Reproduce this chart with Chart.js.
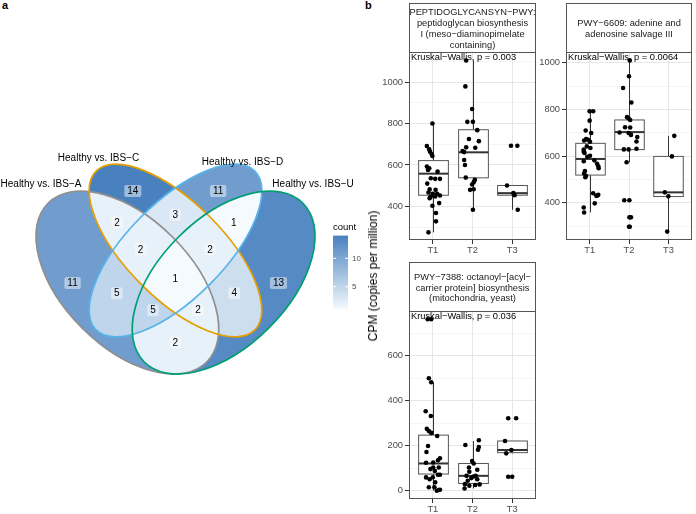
<!DOCTYPE html>
<html>
<head>
<meta charset="utf-8">
<script src="https://cdn.jsdelivr.net/npm/chart.js@4.4.1/dist/chart.umd.min.js"></script>
<style>
body { margin: 0; background: #fff; width: 696px; height: 514px; position: relative; overflow: hidden; font-family: "Liberation Sans", Arial, sans-serif; }
canvas { position: absolute; }
.tag { position: absolute; font-weight: bold; font-size: 11px; }
#ylab { position: absolute; left: 373px; top: 276px; transform: translate(-50%, -50%) rotate(-90deg); white-space: nowrap; font-size: 12px; color: #000; }
</style>
</head>
<body>
<div class="tag" style="left:2px;top:-1px">a</div>
<div class="tag" style="left:365px;top:-1px">b</div>
<canvas id="venn" width="370" height="514" style="left:0;top:0"></canvas>
<canvas id="p1" width="170" height="262" style="left:370px;top:0"></canvas>
<canvas id="p2" width="156" height="262" style="left:540px;top:0"></canvas>
<canvas id="p3" width="170" height="256" style="left:370px;top:258px"></canvas>
<div id="ylab">CPM (copies per million)</div>
<script>
// ---- panel a: venn counts ----
var setNames = ['Healthy vs. IBS\u2212A', 'Healthy vs. IBS\u2212C', 'Healthy vs. IBS\u2212D', 'Healthy vs. IBS\u2212U'];
// 0 = IBS-A, 1 = IBS-C, 2 = IBS-D, 3 = IBS-U
var regionSets = [[0], [1], [2], [3], [0, 1], [1, 2], [2, 3], [0, 1, 2], [1, 2, 3], [0, 1, 2, 3], [0, 2], [1, 3], [0, 2, 3], [0, 1, 3], [0, 3]];
var regionCounts = [11, 14, 11, 13, 2, 3, 1, 2, 2, 1, 5, 4, 5, 2, 2];
var countTicks = [5, 10];

// venn layout (unit coordinates, like ggVennDiagram)
var ellX = [0.35, 0.50, 0.50, 0.65];
var ellY = [0.47, 0.57, 0.57, 0.47];
var ellA = [0.35, 0.35, 0.35, 0.35];
var ellB = [0.20, 0.15, 0.15, 0.20];
var ellRot = [Math.PI / 4, Math.PI / 4, -Math.PI / 4, -Math.PI / 4];
var ellColors = ['#8f8f8f', '#E69F00', '#56B4E9', '#009E73'];
var regionX = [0.179, 0.367, 0.633, 0.821, 0.318, 0.499, 0.682, 0.391, 0.608, 0.499, 0.317, 0.683, 0.43, 0.57, 0.499];
var regionY = [0.469, 0.756, 0.756, 0.469, 0.657, 0.681, 0.657, 0.574, 0.574, 0.482, 0.437, 0.437, 0.384, 0.384, 0.284];
var setLabelX = [0.0806, 0.260, 0.709, 0.929];
var setLabelY = [0.7775, 0.8585, 0.846, 0.7775];

// ---- panel b: boxplots ----
var groups = ['T1', 'T2', 'T3'];

var pepTitle = ['PEPTIDOGLYCANSYN\u2212PWY:', 'peptidoglycan biosynthesis', 'I (meso\u2212diaminopimelate', 'containing)'];
var pepP = 'Kruskal\u2212Wallis, p = 0.003';
var pepT1 = [800, 691, 675, 664, 653, 643, 592, 584, 576, 568, 536, 533, 533, 510, 482, 480, 467, 461, 461, 453, 448, 448, 440, 416, 403, 368, 328, 275];
var pepT1Jit = [-0.01, -0.15, -0.09, -0.07, -0.03, -0.01, -0.15, -0.09, -0.12, 0.12, -0.05, 0.06, 0.18, -0.14, -0.08, 0.07, -0.11, 0, 0.11, 0.18, 0.06, -0.05, -0.08, 0.16, -0.01, 0.08, 0.08, -0.11];
var pepT2 = [1104, 979, 870, 808, 808, 768, 725, 715, 685, 683, 667, 662, 624, 600, 539, 528, 517, 506, 483, 480, 384];
var pepT2Jit = [-0.16, -0.18, -0.01, -0.13, 0.01, 0.12, -0.09, 0.16, -0.16, 0.07, -0.25, -0.21, -0.21, -0.19, -0.17, 0.06, 0.03, -0.01, 0.03, -0.06, 0.01];
var pepT3 = [693, 693, 501, 464, 454, 384];
var pepT3Jit = [-0.03, 0.13, -0.13, 0.03, 0.06, 0.14];
var pepLower = [275, 384, 384];
var pepQ1 = [454, 538, 454];
var pepMedian = [558, 661, 464];
var pepQ3 = [621, 770, 501];
var pepUpper = [800, 1104, 501];

var adeTitle = ['PWY\u22126609: adenine and', 'adenosine salvage III'];
var adeP = 'Kruskal\u2212Wallis, p = 0.0064';
var adeT1 = [792, 792, 752, 710, 699, 673, 670, 667, 662, 642, 635, 628, 619, 614, 602, 597, 582, 578, 567, 557, 548, 536, 526, 515, 510, 441, 435, 432, 430, 398, 380, 359];
var adeT1Jit = [0, 0.09, 0, -0.1, 0.04, -0.09, -0.04, -0.14, 0.01, -0.07, 0.02, -0.15, -0.15, -0.13, 0.01, -0.06, 0.12, -0.15, 0.19, 0.22, 0.23, -0.12, -0.14, -0.09, -0.11, 0.09, 0.22, 0.2, 0.17, 0.13, -0.15, -0.14];
var adeT2 = [1010, 942, 892, 830, 767, 762, 755, 724, 723, 701, 699, 691, 682, 663, 632, 629, 629, 574, 411, 411, 338, 338, 298, 298];
var adeT2Jit = [0.02, 0, -0.15, 0.06, -0.05, -0.01, 0.03, -0.1, 0.03, -0.24, -0.01, 0.05, 0.21, 0.19, 0.19, -0.13, -0.01, -0.06, -0.12, 0.01, 0.01, 0.05, 0, 0.02];
var adeT3 = [687, 599, 445, 428, 277];
var adeT3Jit = [0.15, 0.09, -0.09, 0, -0.03];
var adeLower = [359, 574, 277];
var adeQ1 = [519, 628, 427];
var adeMedian = [588, 703, 445];
var adeQ3 = [655, 755, 599];
var adeUpper = [792, 1010, 687];

var octTitle = ['PWY\u22127388: octanoyl\u2212[acyl\u2212', 'carrier protein] biosynthesis', '(mitochondria, yeast)'];
var octP = 'Kruskal\u2212Wallis, p = 0.036';
var octT1 = [762, 762, 500, 482, 353, 332, 275, 265, 257, 243, 199, 172, 144, 135, 125, 124, 103, 103, 96, 88, 71, 71, 60, 59, 51, 37, 15, 15, 4, 3, 0];
var octT1Jit = [-0.13, -0.04, -0.1, -0.04, -0.18, -0.05, -0.15, -0.1, -0.04, 0.11, -0.12, -0.16, 0.18, 0.13, 0.01, -0.17, 0.01, 0.15, -0.06, 0.05, 0.18, 0.13, 0, -0.17, -0.08, 0.06, -0.1, 0.04, 0.18, 0.15, 0.1];
var octT2 = [224, 203, 194, 182, 132, 121, 103, 93, 84, 66, 66, 63, 56, 51, 44, 29, 28, 25, 22, 10];
var octT2Jit = [0.16, -0.18, 0.16, 0.14, -0.01, 0.03, -0.09, 0.12, -0.08, -0.15, 0.08, 0.03, -0.03, 0.12, -0.12, -0.19, 0.18, 0.07, -0.08, -0.2];
var octT3 = [322, 322, 221, 181, 166, 62, 62];
var octT3Jit = [-0.1, 0.1, -0.18, -0.02, -0.15, -0.1, 0];
var octLower = [0, 10, 166];
var octQ1 = [74, 32, 169];
var octMedian = [121, 66, 181];
var octQ3 = [247, 121, 221];
var octUpper = [482, 221, 221];

var FONT = '"Liberation Sans", Arial, sans-serif';
Chart.defaults.font.family = FONT;

// fill colour for a count (ggVennDiagram default low/high)
var lowCol = [244, 250, 254], highCol = [73, 129, 191];
var cMin = 1, cMax = 14;
function countColor(n) {
    var t = (n - cMin) / (cMax - cMin);
    var c = lowCol.map(function (v, i) { return Math.round(v + (highCol[i] - v) * t); });
    return 'rgb(' + c.join(',') + ')';
}

var vennPlugin = {
    id: 'venn',
    beforeDatasetsDraw: function (chart) {
        var ctx = chart.ctx, xs = chart.scales.x, ys = chart.scales.y, area = chart.chartArea;
        var unit = xs.getPixelForValue(1) - xs.getPixelForValue(0);
        function path(i) {
            ctx.ellipse(xs.getPixelForValue(ellX[i]), ys.getPixelForValue(ellY[i]), ellA[i] * unit, ellB[i] * unit, ellRot[i], 0, Math.PI * 2);
        }
        regionSets.forEach(function (sets, r) {
            ctx.save();
            for (var i = 0; i < 4; i++) {
                ctx.beginPath();
                path(i);
                if (sets.indexOf(i) >= 0) {
                    ctx.clip();
                } else {
                    ctx.closePath();
                    ctx.rect(area.left, area.top, area.width, area.height);
                    ctx.clip('evenodd');
                }
            }
            ctx.fillStyle = countColor(regionCounts[r]);
            ctx.fillRect(area.left, area.top, area.width, area.height);
            ctx.restore();
        });
        ctx.save();
        ctx.lineWidth = 1.7;
        for (var i = 0; i < 4; i++) {
            ctx.strokeStyle = ellColors[i];
            ctx.beginPath();
            path(i);
            ctx.stroke();
        }
        // set names
        ctx.fillStyle = '#000';
        ctx.font = '10px ' + FONT;
        ctx.textAlign = 'center';
        ctx.textBaseline = 'middle';
        setNames.forEach(function (s, i) {
            ctx.fillText(s, xs.getPixelForValue(setLabelX[i]), ys.getPixelForValue(setLabelY[i]));
        });
        ctx.restore();
    },
    afterDatasetsDraw: function (chart) {
        var ctx = chart.ctx;
        var meta = chart.getDatasetMeta(0);
        ctx.save();
        ctx.font = '10px ' + FONT;
        ctx.textAlign = 'center';
        ctx.textBaseline = 'middle';
        meta.data.forEach(function (pt, i) {
            var txt = String(regionCounts[i]);
            var w = ctx.measureText(txt).width + 6, h = 12;
            ctx.fillStyle = 'rgba(255,255,255,0.45)';
            ctx.beginPath();
            ctx.roundRect(pt.x - w / 2, pt.y - h / 2, w, h, 2);
            ctx.fill();
            ctx.fillStyle = '#000';
            ctx.fillText(txt, pt.x, pt.y + 0.5);
        });
        // colour bar legend
        var bx = 333, bw = 15, btop = 235.6, bbot = 309.4;
        var g = ctx.createLinearGradient(0, bbot, 0, btop);
        g.addColorStop(0, countColor(cMin));
        g.addColorStop(1, countColor(cMax));
        ctx.fillStyle = g;
        ctx.fillRect(bx, btop, bw, bbot - btop);
        ctx.fillStyle = '#000';
        ctx.textAlign = 'left';
        ctx.font = '9.5px ' + FONT;
        ctx.fillText('count', bx, 227);
        ctx.font = '8px ' + FONT;
        ctx.strokeStyle = '#fff';
        ctx.lineWidth = 1;
        countTicks.forEach(function (v) {
            var y = bbot - (v - cMin) / (cMax - cMin) * (bbot - btop);
            ctx.beginPath();
            ctx.moveTo(bx, y); ctx.lineTo(bx + 3, y);
            ctx.moveTo(bx + bw - 3, y); ctx.lineTo(bx + bw, y);
            ctx.stroke();
            ctx.fillStyle = '#4D4D4D';
            ctx.fillText(String(v), bx + bw + 4, y);
        });
        ctx.restore();
    }
};

new Chart(document.getElementById('venn'), {
    type: 'scatter',
    data: {
        datasets: [{
            data: regionX.map(function (x, i) { return { x: x, y: regionY[i] }; }),
            pointRadius: 0
        }]
    },
    options: {
        responsive: false,
        animation: false,
        events: [],
        layout: { padding: 0 },
        plugins: { legend: { display: false }, tooltip: { enabled: false } },
        scales: {
            x: { display: false, min: -0.0472, max: 1.1065 },
            y: { display: false, min: -0.2515, max: 1.3512 }
        }
    },
    plugins: [vennPlugin]
});

// one boxplot panel
function boxPanel(id, p) {
    var pts = [];
    p.values.forEach(function (vals, g) {
        vals.forEach(function (v, k) {
            pts.push({ x: g + 1 + p.jitter[g][k], y: v });
        });
    });
    var pY = Math.max.apply(null, p.values.map(function (v) { return Math.max.apply(null, v); }));
    var tickFont = { size: 9.3, family: FONT };

    var decor = {
        id: 'decor',
        beforeDatasetsDraw: function (chart) {
            var ctx = chart.ctx, xs = chart.scales.x, ys = chart.scales.y;
            ctx.save();
            ctx.strokeStyle = '#333333';
            for (var g = 0; g < 3; g++) {
                var cx = Math.round(xs.getPixelForValue(g + 1)) + 0.5;
                var hw = xs.getPixelForValue(g + 1.375) - xs.getPixelForValue(g + 1);
                var top = ys.getPixelForValue(p.q3[g]), bot = ys.getPixelForValue(p.q1[g]);
                ctx.lineWidth = 1;
                ctx.beginPath();
                ctx.moveTo(cx, ys.getPixelForValue(p.upper[g]));
                ctx.lineTo(cx, top);
                ctx.moveTo(cx, bot);
                ctx.lineTo(cx, ys.getPixelForValue(p.lower[g]));
                ctx.stroke();
                ctx.fillStyle = '#fff';
                ctx.fillRect(cx - hw, top, hw * 2, bot - top);
                ctx.strokeStyle = '#555';
                ctx.strokeRect(cx - hw, top, hw * 2, bot - top);
                ctx.strokeStyle = '#333333';
                ctx.lineWidth = 2;
                var my = ys.getPixelForValue(p.median[g]);
                ctx.beginPath();
                ctx.moveTo(cx - hw, my);
                ctx.lineTo(cx + hw, my);
                ctx.stroke();
            }
            ctx.restore();
        },
        afterDatasetsDraw: function (chart) {
            var ctx = chart.ctx, a = chart.chartArea, ys = chart.scales.y;
            ctx.save();
            ctx.fillStyle = '#000';
            ctx.font = '9.3px ' + FONT;
            ctx.textAlign = 'left';
            ctx.textBaseline = 'bottom';
            ctx.fillText(p.pText, a.left + 2, ys.getPixelForValue(pY) + 1.5);
            var L = Math.round(a.left), T = Math.round(a.top), W = Math.round(a.right) - L, H = Math.round(a.bottom) - T;
            ctx.strokeStyle = '#555';
            ctx.lineWidth = 1;
            ctx.strokeRect(L + 0.5, T + 0.5, W - 1, H - 1);
            // strip
            ctx.fillStyle = '#fff';
            ctx.fillRect(L, p.stripTop, W, T - p.stripTop);
            ctx.strokeRect(L + 0.5, p.stripTop + 0.5, W - 1, T - p.stripTop);
            ctx.fillStyle = '#1A1A1A';
            ctx.textAlign = 'center';
            ctx.textBaseline = 'middle';
            var mid = (p.stripTop + T) / 2 + 1.5, lh = 10.8;
            p.title.forEach(function (line, i) {
                ctx.fillText(line, L + W / 2, mid + (i - (p.title.length - 1) / 2) * lh);
            });
            ctx.restore();
        }
    };

    function major(c) { return c.tick && Math.abs(c.tick.value % 200) < 1e-6; }

    return new Chart(document.getElementById(id), {
        type: 'scatter',
        data: {
            datasets: [{
                data: pts,
                pointRadius: 2.3,
                backgroundColor: '#000',
                borderWidth: 0
            }]
        },
        options: {
            responsive: false,
            animation: false,
            events: [],
            layout: { padding: { top: p.padTop, right: p.padRight, left: 0, bottom: 0 } },
            plugins: { legend: { display: false }, tooltip: { enabled: false } },
            scales: {
                x: {
                    type: 'linear', min: 0.4, max: 3.6,
                    afterFit: function (s) { s.height = p.xAxisH; },
                    afterBuildTicks: function (s) {
                        s.ticks = groups.map(function (g, i) { return { value: i + 1 }; });
                    },
                    border: { display: false },
                    grid: { color: '#E6E6E6', lineWidth: 1, tickLength: 4, tickColor: '#333' },
                    ticks: {
                        autoSkip: false, maxRotation: 0, padding: 1,
                        color: '#4D4D4D', font: tickFont,
                        callback: function (v) { return groups[Math.round(v) - 1]; }
                    }
                },
                y: {
                    min: p.yMin, max: p.yMax,
                    afterFit: function (s) { s.width = p.yAxisW; },
                    // major ticks every 200, minor grid lines in between
                    afterBuildTicks: function (s) {
                        var t = [];
                        for (var v = Math.ceil(p.yMin / 100) * 100; v <= p.yMax; v += 100) t.push({ value: v });
                        s.ticks = t;
                    },
                    border: { display: false },
                    grid: {
                        color: function (c) { return major(c) ? '#E6E6E6' : '#EFEFEF'; },
                        lineWidth: function (c) { return major(c) ? 1 : 0.7; },
                        tickLength: 4,
                        tickColor: function (c) { return major(c) ? '#333' : 'rgba(0,0,0,0)'; }
                    },
                    ticks: {
                        autoSkip: false, padding: 2,
                        color: '#4D4D4D', font: tickFont,
                        callback: function (v) { return Math.abs(v % 200) < 1e-6 ? String(v) : ''; }
                    }
                }
            }
        },
        plugins: [decor]
    });
}

boxPanel('p1', {
    title: pepTitle, pText: pepP,
    values: [pepT1, pepT2, pepT3], jitter: [pepT1Jit, pepT2Jit, pepT3Jit],
    lower: pepLower, q1: pepQ1, median: pepMedian, q3: pepQ3, upper: pepUpper,
    yMin: 238, yMax: 1145, yAxisW: 39, padTop: 52, padRight: 4, xAxisH: 22, stripTop: 3
});

boxPanel('p2', {
    title: adeTitle, pText: adeP,
    values: [adeT1, adeT2, adeT3], jitter: [adeT1Jit, adeT2Jit, adeT3Jit],
    lower: adeLower, q1: adeQ1, median: adeMedian, q3: adeQ3, upper: adeUpper,
    yMin: 241, yMax: 1046, yAxisW: 26, padTop: 52, padRight: 1, xAxisH: 22, stripTop: 3
});

boxPanel('p3', {
    title: octTitle, pText: octP,
    values: [octT1, octT2, octT3], jitter: [octT1Jit, octT2Jit, octT3Jit],
    lower: octLower, q1: octQ1, median: octMedian, q3: octQ3, upper: octUpper,
    yMin: -37, yMax: 799, yAxisW: 39, padTop: 53, padRight: 4, xAxisH: 15, stripTop: 4
});
</script>
</body>
</html>
